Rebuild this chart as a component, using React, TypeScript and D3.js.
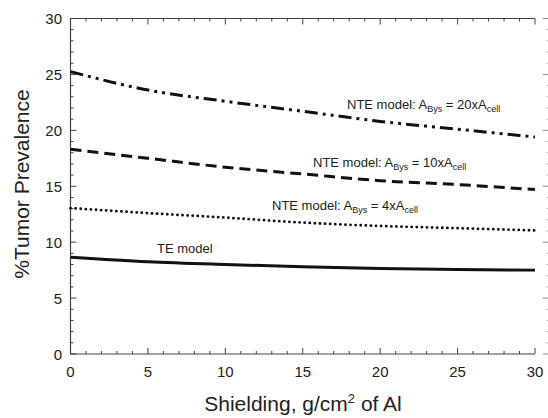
import React from 'react'
import * as d3 from 'd3'

// shielding thickness, g/cm2 of Al
const shielding = [0, 5, 10, 15, 20, 25, 30]
// % tumor prevalence
const nte20 = [25.25, 23.6, 22.6, 21.7, 20.8, 20.1, 19.4]
const nte10 = [18.3, 17.5, 16.7, 16.1, 15.5, 15.15, 14.7]
const nte4 = [13.05, 12.6, 12.2, 11.75, 11.45, 11.25, 11.05]
const te = [8.65, 8.25, 8.0, 7.8, 7.65, 7.55, 7.5]

const xTicks = [0, 5, 10, 15, 20, 25, 30]
const yTicks = [0, 5, 10, 15, 20, 25, 30]

const W = 548, H = 418
const m = { left: 70.5, right: 535, top: 18.5, bottom: 354 }

export default function App() {
  const x = d3.scaleLinear().domain([0, 30]).range([m.left, m.right])
  const y = d3.scaleLinear().domain([0, 30]).range([m.bottom, m.top])
  const line = d3.line<number>()
    .x((d, i) => x(shielding[i]))
    .y(d => y(d))
    .curve(d3.curveMonotoneX)

  const minorX = d3.range(0, 31, 1).filter(v => v % 5 !== 0)
  const minorY = d3.range(0, 31, 1).filter(v => v % 5 !== 0)
  const axisCol = '#444'
  const font = 'Arial, "Liberation Sans", sans-serif'

  const label = (tx: number, ty: number, n: string) => (
    <text x={tx} y={ty} fontSize={13} fill="#222">
      NTE model: A<tspan fontSize={9} dy={3}>Bys</tspan>
      <tspan dy={-3}> = {n}xA</tspan>
      <tspan fontSize={9} dy={3}>cell</tspan>
    </text>
  )

  return (
    <svg width={W} height={H} style={{ position: 'absolute', left: 0, top: 0, background: '#fff' }} fontFamily={font}>
      {/* frame */}
      <path d={`M${m.left},${m.top}H${m.right}`} stroke={axisCol} strokeWidth={1.2} />
      <path d={`M${m.left},${m.top}V${m.bottom}H${m.right}`} stroke={axisCol} strokeWidth={1.2} fill="none" />

      {/* x ticks, bottom and top, inward */}
      {xTicks.map(v => (
        <g key={'xt' + v}>
          <line x1={x(v)} x2={x(v)} y1={m.bottom} y2={m.bottom - 6} stroke={axisCol} />
          <line x1={x(v)} x2={x(v)} y1={m.top} y2={m.top + 6} stroke={axisCol} />
          <text x={x(v)} y={377} textAnchor="middle" fontSize={15} fill="#222">{v}</text>
        </g>
      ))}
      {minorX.map(v => (
        <g key={'xm' + v}>
          <line x1={x(v)} x2={x(v)} y1={m.bottom} y2={m.bottom - 3} stroke={axisCol} />
          <line x1={x(v)} x2={x(v)} y1={m.top} y2={m.top + 3} stroke={axisCol} />
        </g>
      ))}

      {/* y ticks, left inward, right edge partially cut */}
      {yTicks.map(v => (
        <g key={'yt' + v}>
          <line x1={m.left} x2={m.left + 6} y1={y(v)} y2={y(v)} stroke={axisCol} />
          <line x1={543} x2={548} y1={y(v)} y2={y(v)} stroke="#888" />
          <text x={62} y={y(v) + 5.5} textAnchor="end" fontSize={15} fill="#222">{v}</text>
        </g>
      ))}
      {minorY.map(v => (
        <g key={'ym' + v}>
          <line x1={m.left} x2={m.left + 3} y1={y(v)} y2={y(v)} stroke={axisCol} />
          <line x1={546} x2={548} y1={y(v)} y2={y(v)} stroke="#bbb" />
        </g>
      ))}

      {/* curves */}
      <path d={line(nte20) || ''} fill="none" stroke="#111" strokeWidth={3} strokeDasharray="13 5 3 5 3 5" />
      <path d={line(nte10) || ''} fill="none" stroke="#111" strokeWidth={3} strokeDasharray="11 6" />
      <path d={line(nte4) || ''} fill="none" stroke="#111" strokeWidth={2.8} strokeDasharray="0.1 5" strokeLinecap="round" />
      <path d={line(te) || ''} fill="none" stroke="#111" strokeWidth={3} />

      {label(347, 109, '20')}
      {label(313, 167, '10')}
      {label(272, 210, '4')}
      <text x={157} y={253} fontSize={13} fill="#222">TE model</text>

      {/* axis titles */}
      <text x={303} y={411} textAnchor="middle" fontSize={21} fill="#222">
        Shielding, g/cm<tspan fontSize={13} dy={-8}>2</tspan><tspan dy={8}> of Al</tspan>
      </text>
      <text transform={`translate(29,184) rotate(-90)`} textAnchor="middle" fontSize={21} fill="#222">%Tumor Prevalence</text>
    </svg>
  )
}
